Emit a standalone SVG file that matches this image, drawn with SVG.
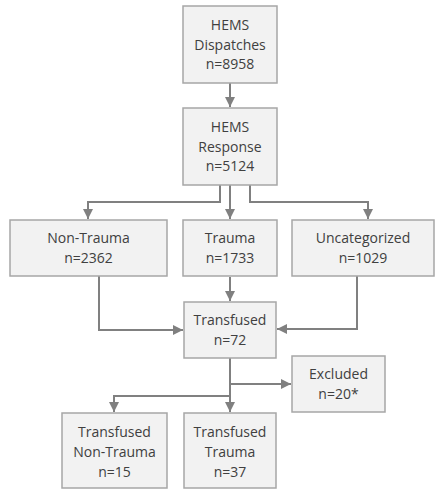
<svg xmlns="http://www.w3.org/2000/svg" width="435" height="490" viewBox="0 0 435 490">
<style>
.box{fill:#f2f2f2;stroke:#a6a6a6;stroke-width:1.5}
.t{font-family:"Open Sans","Noto Sans",sans-serif;font-size:14px;fill:#404040;text-anchor:middle}
.c{fill:none;stroke:#808080;stroke-width:2}
</style>
<defs>
<marker id="ah" viewBox="0 0 10 10" refX="10" refY="5" markerWidth="10" markerHeight="10" markerUnits="userSpaceOnUse" orient="auto">
<path d="M0,0 L10,5 L0,10 z" fill="#808080"/>
</marker>
</defs>
<rect width="435" height="490" fill="#ffffff"/>
<g id="connectors">
<path class="c" d="M230,83 V107" marker-end="url(#ah)"/>
<path class="c" d="M220,185 V202 H88 V219" marker-end="url(#ah)"/>
<path class="c" d="M230,185 V219" marker-end="url(#ah)"/>
<path class="c" d="M250,185 V202 H368 V219" marker-end="url(#ah)"/>
<path class="c" d="M230,277 V301" marker-end="url(#ah)"/>
<path class="c" d="M99,276 V330 H183" marker-end="url(#ah)"/>
<path class="c" d="M357,276 V329 H277" marker-end="url(#ah)"/>
<path class="c" d="M230,358 V412" marker-end="url(#ah)"/>
<path class="c" d="M230,384 H291" marker-end="url(#ah)"/>
<path class="c" d="M230,396 H114 V412" marker-end="url(#ah)"/>
</g>
<g id="dispatches">
<rect class="box" x="183" y="6" width="94" height="77"/>
<text class="t" x="230" y="30">HEMS</text>
<text class="t" x="230" y="50">Dispatches</text>
<text class="t" x="230" y="69">n=8958</text>
</g>
<g id="response">
<rect class="box" x="183" y="108" width="94" height="77"/>
<text class="t" x="230" y="132">HEMS</text>
<text class="t" x="230" y="152">Response</text>
<text class="t" x="230" y="171">n=5124</text>
</g>
<g id="nontrauma">
<rect class="box" x="10" y="220" width="157" height="56"/>
<text class="t" x="88.5" y="243">Non-Trauma</text>
<text class="t" x="88.5" y="263">n=2362</text>
</g>
<g id="trauma">
<rect class="box" x="183" y="220" width="94" height="56"/>
<text class="t" x="230" y="243">Trauma</text>
<text class="t" x="230" y="263">n=1733</text>
</g>
<g id="uncategorized">
<rect class="box" x="292" y="220" width="142" height="56"/>
<text class="t" x="363" y="243">Uncategorized</text>
<text class="t" x="363" y="263">n=1029</text>
</g>
<g id="transfused">
<rect class="box" x="184" y="302" width="92" height="56"/>
<text class="t" x="230" y="325">Transfused</text>
<text class="t" x="230" y="345">n=72</text>
</g>
<g id="excluded">
<rect class="box" x="292" y="356" width="93" height="56"/>
<text class="t" x="338.5" y="379">Excluded</text>
<text class="t" x="338.5" y="399">n=20*</text>
</g>
<g id="tf_nontrauma">
<rect class="box" x="62" y="413" width="105" height="75"/>
<text class="t" x="114.5" y="437">Transfused</text>
<text class="t" x="114.5" y="457">Non-Trauma</text>
<text class="t" x="114.5" y="477">n=15</text>
</g>
<g id="tf_trauma">
<rect class="box" x="184" y="413" width="92" height="75"/>
<text class="t" x="230" y="437">Transfused</text>
<text class="t" x="230" y="457">Trauma</text>
<text class="t" x="230" y="477">n=37</text>
</g>
</svg>
